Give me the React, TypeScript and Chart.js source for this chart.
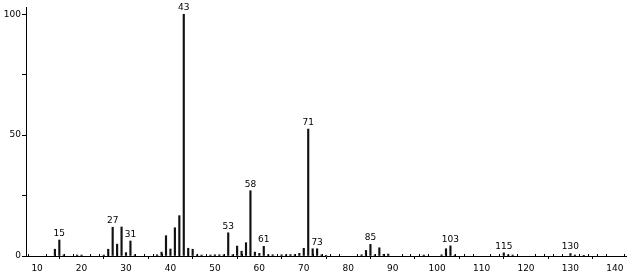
import React, { useEffect, useRef } from "react";
import { Chart, registerables } from "chart.js";

Chart.register(...registerables);

const masses = [14, 15, 16, 19, 20, 25, 26, 27, 28, 29, 30, 31, 32, 37, 38, 39, 40, 41, 42, 43, 44, 45, 46, 47, 49, 50, 51, 52, 53, 54, 55, 56, 57, 58, 59, 60, 61, 62, 63, 65, 66, 67, 68, 69, 70, 71, 72, 73, 74, 75, 83, 84, 85, 86, 87, 88, 89, 97, 101, 102, 103, 104, 115, 116, 117, 130, 131, 133];
const intensities = [2.8, 6.6, 0.5, 0.4, 0.4, 0.4, 2.8, 11.9, 4.9, 12.0, 1.4, 6.2, 0.5, 0.5, 1.6, 8.4, 2.9, 11.7, 16.7, 100, 3.2, 2.8, 0.5, 0.4, 0.4, 0.5, 0.5, 0.5, 9.6, 0.5, 4.1, 2.0, 5.5, 27.0, 1.6, 1.1, 4.0, 0.5, 0.5, 0.5, 0.5, 0.6, 0.6, 1.1, 3.2, 52.5, 3.0, 3.0, 0.5, 0.3, 0.5, 2.3, 4.8, 0.5, 3.4, 0.7, 0.8, 0.4, 0.5, 3.0, 4.2, 0.4, 1.3, 0.5, 0.4, 1.0, 0.4, 0.3];
const labeledPeaks = [15, 27, 31, 43, 53, 58, 61, 71, 73, 85, 103, 115, 130];
const xTickLabels = [10, 20, 30, 40, 50, 60, 70, 80, 90, 100, 110, 120, 130, 140];
const yTickLabels = [0, 50, 100];

const FONT = '"DejaVu Sans", sans-serif';

const peakLabelPlugin = {
  id: "peakLabels",
  afterDatasetsDraw(chart: any) {
    const { ctx, scales } = chart;
    ctx.save();
    ctx.fillStyle = "#000";
    ctx.font = `9px ${FONT}`;
    ctx.textAlign = "center";
    ctx.textBaseline = "bottom";
    labeledPeaks.forEach((m) => {
      const i = masses.indexOf(m);
      if (i < 0) return;
      const x = scales.x.getPixelForValue(m);
      const y = scales.y.getPixelForValue(intensities[i]);
      ctx.fillText(String(m), x, y - 2);
    });
    ctx.restore();
  },
};

const minorTickPlugin = {
  id: "minorTicks",
  afterDraw(chart: any) {
    const { ctx, scales } = chart;
    const xs = scales.x;
    const y0 = scales.y.getPixelForValue(0);
    ctx.save();
    ctx.strokeStyle = "#000";
    ctx.lineWidth = 1;
    for (let v = 8; v <= 142; v += 2) {
      if (v % 10 === 0) continue;
      const x = Math.round(xs.getPixelForValue(v)) + 0.5;
      ctx.beginPath();
      ctx.moveTo(x, y0);
      ctx.lineTo(x, y0 - 2);
      ctx.stroke();
    }
    ctx.restore();
  },
};

export default function App() {
  const ref = useRef<HTMLCanvasElement>(null);
  useEffect(() => {
    document.body.style.margin = "0";
    const canvas = ref.current!;
    const chart = new Chart(canvas, {
      type: "bar",
      data: {
        datasets: [
          {
            data: masses.map((m, i) => ({ x: m, y: intensities[i] })),
            backgroundColor: "#111",
            borderWidth: 0,
            barThickness: 1.5,
          },
        ],
      },
      options: {
        animation: false,
        responsive: false,
        maintainAspectRatio: false,
        layout: { padding: { top: 7, right: 2, left: 0, bottom: 0 } },
        plugins: { legend: { display: false }, tooltip: { enabled: false } },
        scales: {
          x: {
            type: "linear",
            min: 7.5,
            max: 142.5,
            offset: false,
            afterFit: (s: any) => {
              s.height = 17;
            },
            border: { display: true, color: "#000", width: 1 },
            grid: { drawOnChartArea: false, drawTicks: true, tickLength: 3, color: "#000" },
            ticks: {
              stepSize: 10,
              includeBounds: false,
              autoSkip: false,
              maxRotation: 0,
              padding: 4,
              color: "#000",
              font: { family: FONT, size: 9 },
              callback: (v: any) => (xTickLabels.includes(Number(v)) ? String(v) : ""),
            },
          },
          y: {
            min: 0,
            max: 103,
            afterFit: (s: any) => {
              s.width = 26;
            },
            border: { display: true, color: "#000", width: 1 },
            grid: { drawOnChartArea: false, drawTicks: true, tickLength: 4, color: "#000" },
            ticks: {
              stepSize: 25,
              includeBounds: false,
              autoSkip: false,
              padding: 1,
              color: "#000",
              font: { family: FONT, size: 9 },
              callback: (v: any) => (yTickLabels.includes(Number(v)) ? String(v) : ""),
            },
          },
        },
      },
      plugins: [peakLabelPlugin, minorTickPlugin],
    });
    return () => chart.destroy();
  }, []);
  return (
    <div style={{ width: 628, height: 273 }}>
      <canvas ref={ref} width={628} height={273} style={{ display: "block", width: 628, height: 273 }} />
    </div>
  );
}
